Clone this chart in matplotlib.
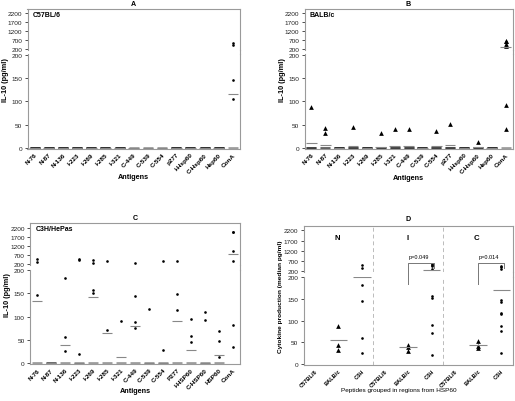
import matplotlib
matplotlib.use('Agg')
import matplotlib.pyplot as plt
from matplotlib import font_manager
from matplotlib.lines import Line2D

# narrow Arial-like face if it is installed, else plain Liberation Sans, slightly smaller
try:
    font_manager.findfont('Liberation Sans Narrow', fallback_to_default=False)
    plt.rcParams['font.family'] = ['Liberation Sans Narrow', 'DejaVu Sans']
    k = 1.0
except ValueError:
    plt.rcParams['font.family'] = ['Liberation Sans', 'DejaVu Sans']
    k = 0.82

# ---- data ----
antigens_ab = ['N-76', 'N-87', 'N-136', 'I-223', 'I-269', 'I-285', 'I-321', 'C-449',
               'C-539', 'C-554', 'p277', 'I-Hsp60', 'C-Hsp60', 'Hsp60', 'ConA']
antigens_c = ['N-76', 'N-87', 'N-136', 'I-223', 'I-269', 'I-285', 'I-321', 'C-449',
              'C-539', 'C-554', 'P277', 'I-HSP60', 'C-HSP60', 'HSP60', 'ConA']

# C57BL/6 IL-10 (pg/ml)
a_vals = [[0, 0, 0, 0]] * 7 + [[0], [0], [0]] + [[0, 0, 0, 0]] * 4 + [[520, 440, 147, 106, 0]]
a_med = [0] * 14 + [115]

# BALB/c
b_vals = [[87, 0, 0, 0], [43, 31, 0, 0], [0, 0, 0, 0], [44, 0, 0, 0], [0, 0, 0, 0],
          [31, 0, 0, 0], [40, 0, 0, 0], [41, 0, 0, 0], [0, 0, 0, 0], [37, 0, 0, 0],
          [52, 0, 0, 0], [0, 0, 0, 0], [13, 0, 0, 0], [0, 0, 0, 0],
          [630, 630, 480, 385, 92, 40, 0]]
b_med = [9.5, 6.5, 0, 3, 0, 2, 3, 4, 0, 3, 6, 0, 1, 0, 330]

# C3H/HePas
c_vals = [[445, 313, 146, 0], [0, 0], [183, 57, 25, 0], [482, 426, 19, 0],
          [388, 256, 157, 151, 0], [350, 71, 0], [90, 0], [219, 144, 88, 75, 0],
          [116, 0], [332, 27, 0], [350, 149, 114, 0], [95, 59, 45, 0],
          [111, 93, 0], [68, 47, 14, 0], [1970, 1970, 900, 370, 83, 35]]
c_med = [133, 0, 38, 0, 142, 65, 12, 79, 0, 0, 91, 28, 0, 17, 727]

# panel D: median cytokine production grouped by HSP60 region
d_strains = ['C57BL/6', 'BALB/c', 'C3H']
d_groups = ['N', 'I', 'C']
d_balb = [[88, 44, 31], [43, 39, 30], [53, 40, 36]]
d_c3h = [[486, 359, 183, 145, 59, 25],
         [565, 486, 438, 327, 157, 151, 90, 71, 19],
         [438, 406, 327, 147, 144, 117, 115, 88, 75, 25]]
d_balb_med = [55, 38, 44]
d_c3h_med = [200, 250, 171]
d_pvals = [None, 'p=0.049', 'p=0.014']

W, H = 515, 402
fig = plt.figure(figsize=(W / 100, H / 100), dpi=100)
frame_col = '#9a9a9a'


def broken(l, r, t_up, b_up, t_lo, b_lo, up_lim, lo_lim, xlim):
    ax_up = fig.add_axes([l / W, 1 - b_up / H, (r - l) / W, (b_up - t_up) / H])
    ax_lo = fig.add_axes([l / W, 1 - b_lo / H, (r - l) / W, (b_lo - t_lo) / H])
    ax_up.set_ylim(*up_lim)
    ax_lo.set_ylim(*lo_lim)
    for ax in (ax_up, ax_lo):
        ax.set_xlim(*xlim)
        for s in ax.spines.values():
            s.set_color(frame_col)
            s.set_linewidth(0.8)
        ax.tick_params(axis='y', labelsize=5.7 * k, length=2.5, width=0.6, pad=1.2,
                       colors='#333333', labelcolor='#222222')
    ax_up.spines['bottom'].set_visible(False)
    ax_lo.spines['top'].set_visible(False)
    ax_up.set_xticks([])
    ax_up.set_yticks([200, 700, 1200, 1700, 2200])
    ax_lo.set_yticks([0, 50, 100, 150, 200])
    ax_lo.tick_params(axis='x', length=0, pad=2)
    fig.add_artist(Line2D([r / W, r / W], [1 - b_up / H, 1 - t_lo / H],
                          color=frame_col, lw=0.8))
    return ax_up, ax_lo


def put(ax_up, ax_lo, x, v, **kw):
    ax = ax_up if v > 200 else ax_lo
    ax.plot([x], [v], linestyle='none', clip_on=False, **kw)


def draw_series(ax_up, ax_lo, vals, meds, marker, ms):
    for i, (vs, m) in enumerate(zip(vals, meds)):
        for v in vs:
            if v == 0:
                ax_lo.plot([i], [0], marker='_', ms=7, mew=2, color='black',
                           alpha=0.38, linestyle='none', clip_on=False)
            else:
                put(ax_up, ax_lo, i, v, marker=marker, ms=ms, color='black', mew=0)
        ax = ax_up if m > 200 else ax_lo
        ax.hlines(m, i - 0.38, i + 0.38, color='#888888', lw=0.8)


def panel_abc(l, r, t_up, b_up, t_lo, b_lo, up_lim, lo_lim, vals, meds, labels,
              marker, ms, title, strain, title_y, xlabel_y):
    ax_up, ax_lo = broken(l, r, t_up, b_up, t_lo, b_lo, up_lim, lo_lim, (-0.5, 14.5))
    draw_series(ax_up, ax_lo, vals, meds, marker, ms)
    ax_lo.set_xticks(range(len(labels)))
    ax_lo.set_xticklabels(labels, rotation=45, ha='right', rotation_mode='anchor',
                          fontsize=5.6 * k, fontweight='bold')
    ax_up.text(0.025, 0.86, strain, transform=ax_up.transAxes, fontsize=6.2 * k,
               fontweight='bold', va='center')
    cx = (l + r) / 2 / W
    fig.text(cx, 1 - title_y / H, title, ha='center', va='center', fontsize=6.3 * k,
             fontweight='bold')
    fig.text(cx, 1 - xlabel_y / H, 'Antigens', ha='center', va='center',
             fontsize=6.4 * k, fontweight='bold')
    fig.text((l - 22) / W, 1 - (t_up + b_lo) / 2 / H, 'IL-10 (pg/ml)', rotation=90,
             ha='center', va='center', fontsize=6.5 * k, fontweight='bold')


panel_abc(27.5, 240, 9.5, 51, 55, 150, (144, 2469), (-2.8, 202.1), a_vals, a_med,
          antigens_ab, 'o', 1.9, 'A', 'C57BL/6', 4, 178)
panel_abc(304.5, 512.5, 9.5, 51, 55, 150, (144, 2469), (-2.8, 202.1), b_vals, b_med,
          antigens_ab, '^', 3.4, 'B', 'BALB/c', 4, 179)
panel_abc(30, 240, 224, 265.7, 270.5, 365.3, (143.5, 2500), (-2.8, 201.7), c_vals,
          c_med, antigens_c, 'o', 1.9, 'C', 'C3H/HePas', 219, 392)

# ---- panel D ----
l, r = 303.5, 513
ax_up, ax_lo = broken(l, r, 227, 273.2, 277.5, 366, (151, 2421), (-3.0, 201.9),
                      (0.5, 9.5))
for g in range(3):
    xb = 3 * g + 2
    xc = 3 * g + 3
    for v in d_balb[g]:
        put(ax_up, ax_lo, xb, v, marker='^', ms=3.4, color='black', mew=0)
    for v in d_c3h[g]:
        put(ax_up, ax_lo, xc, v, marker='o', ms=1.9, color='black', mew=0)
    for x, m in ((xb, d_balb_med[g]), (xc, d_c3h_med[g])):
        ax = ax_up if m > 200 else ax_lo
        ax.hlines(m, x - 0.38, x + 0.38, color='#888888', lw=0.8)
    ax_up.text(3 * g + 1.95, 1850, d_groups[g], ha='center', va='center',
               fontsize=6.8 * k, fontweight='bold')
    if d_pvals[g]:
        x0, x1 = xb, xc + 0.1
        top, rb = 620, 380
        ax_up.plot([x0, x0, x1, x1], [151, top, top, rb], color='#777777', lw=0.7)
        ax_lo.plot([x0, x0], [185, 212], color='#777777', lw=0.7, clip_on=False)
        ax_up.text((x0 + x1) / 2 - 0.1, top + 300, d_pvals[g], ha='center',
                   va='center', fontsize=4.8 * k)
for xs in (3.5, 6.5):
    for ax in (ax_up, ax_lo):
        ax.axvline(xs, color='#bbbbbb', lw=0.7, ls=(0, (4, 3)))
ax_lo.set_xticks(range(1, 10))
ax_lo.set_xticklabels(d_strains * 3, rotation=45, ha='right', rotation_mode='anchor',
                      fontsize=5.0 * k, fontweight='bold')
cx = (l + r) / 2 / W
fig.text(cx, 1 - 220 / H, 'D', ha='center', va='center', fontsize=6.3 * k,
         fontweight='bold')
fig.text(cx - 9 / W, 1 - 391 / H, 'Peptides grouped in regions from HSP60',
         ha='center', va='center', fontsize=5.6 * k)
fig.text((l - 23) / W, 1 - (227 + 366) / 2 / H, 'Cytokine production (median pg/ml)',
         rotation=90, ha='center', va='center', fontsize=5.7 * k, fontweight='bold')

fig.savefig('out.png', dpi=100)
